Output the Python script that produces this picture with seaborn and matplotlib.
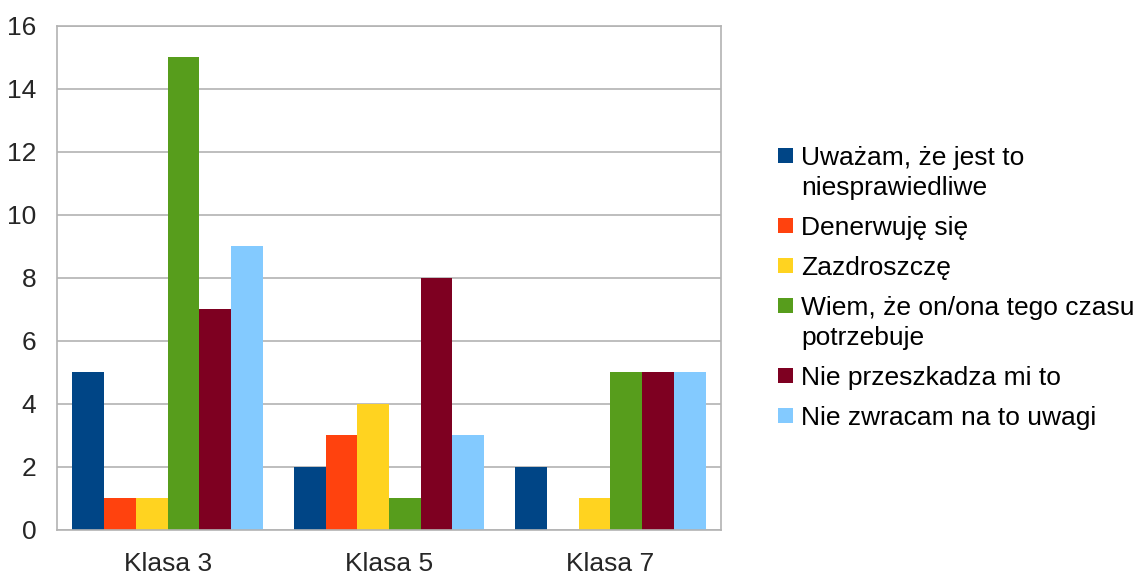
import matplotlib
matplotlib.use("Agg")
import matplotlib.pyplot as plt
from matplotlib.patches import Rectangle
import numpy as np
import pandas as pd
import seaborn as sns

# data
classes = ["Klasa 3", "Klasa 5", "Klasa 7"]
answers = ["Uważam, że jest to\nniesprawiedliwe", "Denerwuję się", "Zazdroszczę",
           "Wiem, że on/ona tego czasu\npotrzebuje", "Nie przeszkadza mi to",
           "Nie zwracam na to uwagi"]
unfair = [5, 2, 2]
annoyed = [1, 3, 0]
jealous = [1, 4, 1]
needs_time = [15, 1, 5]
not_bothered = [7, 8, 5]
ignore = [9, 3, 5]
colors = ["#004586", "#ff420e", "#ffd320", "#579d1c", "#7e0021", "#83caff"]

series = [unfair, annoyed, jealous, needs_time, not_bothered, ignore]
rows = []
for ans, vals in zip(answers, series):
    for cls, v in zip(classes, vals):
        rows.append({"klasa": cls, "odp": ans, "n": v})
df = pd.DataFrame(rows)

sns.set_style("white")
plt.rcParams['font.family'] = ['Liberation Sans', 'DejaVu Sans']
fs = 19
grid_col = "#b3b3b3"

W, H = 1138, 577
fig = plt.figure(figsize=(W / 100, H / 100), dpi=100)
ax = fig.add_axes([57 / W, 1 - 529.5 / H, 664 / W, 504 / H])

sns.barplot(data=df, x="klasa", y="n", hue="odp", hue_order=answers,
            palette=colors, width=0.86, saturation=1, linewidth=0,
            legend=False, ax=ax)

ax.set_ylim(0, 16)
ax.set_xlim(-0.5, 2.5)
ax.set_yticks(np.arange(0, 17, 2))
ax.yaxis.grid(True, color=grid_col, linewidth=1.2)
ax.set_axisbelow(True)

# category boundaries as ticks, labels in the middle
ax.set_xticks([-0.5, 0.5, 1.5, 2.5])
ax.set_xticklabels([])
ax.set_xticks(range(len(classes)), minor=True)
ax.set_xticklabels(classes, minor=True)
ax.tick_params(axis="x", which="major", length=8, width=1.2, color=grid_col)
ax.tick_params(axis="x", which="minor", length=0, pad=16, labelsize=fs)
ax.tick_params(axis="y", length=9, width=1.2, color=grid_col, pad=6, labelsize=fs)
ax.set_xlabel("")
ax.set_ylabel("")
for s in ax.spines.values():
    s.set_visible(True)
    s.set_color(grid_col)
    s.set_linewidth(1.2)

# legend drawn by hand so the square sits next to the first line
ypx = 155.5
for ans, col in zip(answers, colors):
    lines = ans.split("\n")
    fig.patches.append(Rectangle((778 / W, 1 - (ypx + 7.5) / H), 15 / W, 15 / H,
                                 transform=fig.transFigure, facecolor=col,
                                 edgecolor="none"))
    for i, line in enumerate(lines):
        fig.text(801 / W, 1 - (ypx + 30 * i) / H, line, fontsize=fs,
                 va="center_baseline", ha="left", color="black")
    ypx += 40 + 30 * (len(lines) - 1)

fig.savefig("out.png", dpi=100)
